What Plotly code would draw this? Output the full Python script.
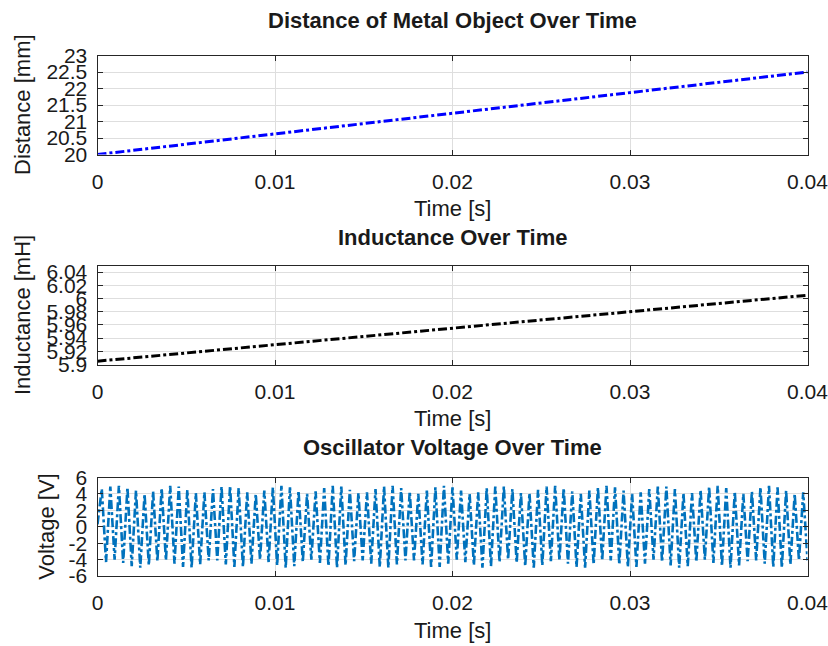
import numpy as np
import plotly.graph_objects as go

# ---------------- data ----------------
time_ticks = [0, 0.01, 0.02, 0.03, 0.04]
time_ticklabels = ["0", "0.01", "0.02", "0.03", "0.04"]

dist_time = [0, 0.01, 0.02, 0.03, 0.04]
distance_mm = [20.0, 20.625, 21.25, 21.875, 22.5]
dist_ticks = [20, 20.5, 21, 21.5, 22, 22.5, 23]
dist_ticklabels = ["20", "20.5", "21", "21.5", "22", "22.5", "23"]

ind_time = [0, 0.01, 0.02, 0.03, 0.04]
inductance_mH = [5.905, 5.93, 5.955, 5.98, 6.005]
ind_ticks = [5.9, 5.92, 5.94, 5.96, 5.98, 6.0, 6.02, 6.04]
ind_ticklabels = ["5.9", "5.92", "5.94", "5.96", "5.98", "6", "6.02", "6.04"]

volt_ticks = [-6, -4, -2, 0, 2, 4, 6]
volt_ticklabels = ["-6", "-4", "-2", "0", "2", "4", "6"]
volt_start = 0.3
volt_peaks = [
    4.6, 4.9, 5.0, 4.8, 4.4, 4.0, 4.3, 4.7, 5.0, 4.9,
    4.5, 4.1, 4.2, 4.6, 4.9, 5.0, 4.7, 4.2, 4.0, 4.4,
    4.8, 5.0, 4.8, 4.4, 4.0, 4.3, 4.7, 5.0, 4.9, 4.5,
    4.1, 4.2, 4.6, 4.9, 5.0, 4.7, 4.3, 4.0, 4.4, 4.8,
    5.0, 4.8, 4.4, 4.0, 4.2, 4.7, 4.9, 4.9, 4.6, 4.1,
    4.1, 4.5, 4.9, 5.0, 4.7, 4.3, 4.0, 4.4, 4.8, 5.0,
    4.8, 4.4, 4.0, 4.2, 4.6, 4.9, 4.9, 4.6, 4.1, 4.1,
    4.5, 4.9, 5.0, 4.7, 4.3, 4.0, 4.3, 4.8, 5.0, 4.8,
    4.4, 4.0, 4.2,
]
volt_troughs = [
    -4.3, -4.0, -4.4, -4.8, -5.0, -4.7, -4.2, -4.1, -4.5, -4.9,
    -5.0, -4.6, -4.1, -4.1, -4.6, -4.9, -4.9, -4.5, -4.0, -4.3,
    -4.7, -5.0, -4.8, -4.3, -4.0, -4.4, -4.8, -5.0, -4.7, -4.2,
    -4.1, -4.5, -4.9, -5.0, -4.6, -4.1, -4.1, -4.6, -4.9, -4.9,
    -4.5, -4.0, -4.3, -4.7, -5.0, -4.8, -4.3, -4.0, -4.4, -4.8,
    -5.0, -4.7, -4.2, -4.1, -4.5, -4.9, -5.0, -4.6, -4.1, -4.1,
    -4.6, -4.9, -4.9, -4.5, -4.0, -4.3, -4.7, -5.0, -4.8, -4.3,
    -4.0, -4.4, -4.8, -5.0, -4.7, -4.2, -4.1, -4.5, -4.9, -5.0,
    -4.6, -4.1, -4.1,
]

voltage = [volt_start]
for p, t in zip(volt_peaks, volt_troughs):
    voltage += [p, t]
volt_time = np.linspace(0, 0.04, len(voltage))

# ---------------- layout helpers ----------------
W, H = 828, 646
FONT = "Liberation Sans, Arial, sans-serif"
TXT = "#1a1a1a"
AX = "#262626"
GRID = "#dedede"


def px_x(x):
    return x / W


def px_y(y):
    return 1 - y / H


x0, x1 = 97.5, 807.5
panels = [(55.5, 154.5), (265.5, 364.5), (477.5, 576.0)]

fig = go.Figure()
fig.add_trace(go.Scatter(x=dist_time, y=distance_mm, mode="lines",
                         line=dict(color="#0000ff", width=3, dash="dashdot"),
                         xaxis="x", yaxis="y", showlegend=False))
fig.add_trace(go.Scatter(x=ind_time, y=inductance_mH, mode="lines",
                         line=dict(color="#000000", width=3, dash="dashdot"),
                         xaxis="x2", yaxis="y2", showlegend=False))
fig.add_trace(go.Scatter(x=volt_time, y=voltage, mode="lines",
                         line=dict(color="#0072BD", width=2.6, dash="dashdot"),
                         xaxis="x3", yaxis="y3", showlegend=False))

common_x = dict(range=[0, 0.04], tickvals=time_ticks, ticktext=time_ticklabels,
                showgrid=True, gridcolor=GRID, gridwidth=1, zeroline=False,
                showline=True, linecolor=AX, linewidth=1, mirror="ticks",
                ticks="inside", ticklen=5, tickcolor=AX, automargin=False,
                ticklabelstandoff=8, ticklabeloverflow="allow",
                tickfont=dict(family=FONT, size=21, color=TXT),
                domain=[px_x(x0), px_x(x1)])
common_y = dict(showgrid=True, gridcolor=GRID, gridwidth=1, zeroline=False,
                showline=True, linecolor=AX, linewidth=1, mirror="ticks",
                ticks="inside", ticklen=5, tickcolor=AX, automargin=False,
                ticklabelstandoff=5, ticklabeloverflow="allow",
                tickfont=dict(family=FONT, size=21, color=TXT))

layout = dict(width=W, height=H, margin=dict(l=0, r=0, t=0, b=0, autoexpand=False),
              paper_bgcolor="white", plot_bgcolor="white", showlegend=False)
yspecs = [
    (dist_ticks, dist_ticklabels, [20, 23]),
    (ind_ticks, ind_ticklabels, [5.9, 6.05]),
    (volt_ticks, volt_ticklabels, [-6, 6]),
]
for i, ((top, bot), (tv, tt, rng)) in enumerate(zip(panels, yspecs)):
    sfx = "" if i == 0 else str(i + 1)
    layout["xaxis" + sfx] = dict(common_x, anchor="y" + sfx)
    layout["yaxis" + sfx] = dict(common_y, anchor="x" + sfx, range=rng,
                                 tickvals=tv, ticktext=tt,
                                 domain=[px_y(bot), px_y(top)])
fig.update_layout(**layout)

titles = ["Distance of Metal Object Over Time", "Inductance Over Time",
          "Oscillator Voltage Over Time"]
title_y = [20, 237, 447]
ylabels = ["Distance [mm]", "Inductance [mH]", "Voltage [V]"]
ylabel_x = [22, 22, 47]
for i, (top, bot) in enumerate(panels):
    fig.add_annotation(text="<b>%s</b>" % titles[i], xref="paper", yref="paper",
                       x=px_x((x0 + x1) / 2), y=px_y(title_y[i]), showarrow=False,
                       xanchor="center", yanchor="middle",
                       font=dict(family=FONT, size=22, color=TXT))
    fig.add_annotation(text="Time [s]", xref="paper", yref="paper",
                       x=px_x((x0 + x1) / 2), y=px_y(bot + 54), showarrow=False,
                       xanchor="center", yanchor="middle",
                       font=dict(family=FONT, size=22, color=TXT))
    fig.add_annotation(text=ylabels[i], xref="paper", yref="paper",
                       x=px_x(ylabel_x[i]), y=px_y((top + bot) / 2), showarrow=False,
                       textangle=-90, xanchor="center", yanchor="middle",
                       font=dict(family=FONT, size=22, color=TXT))

fig.write_html("out.html",
               config={"displayModeBar": False},
               post_script="document.body.style.margin='0';"
                           "document.body.style.overflow='hidden';")
